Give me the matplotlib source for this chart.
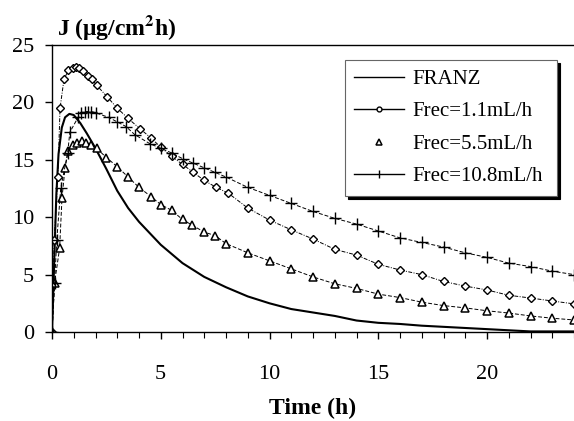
import matplotlib
matplotlib.use("Agg")
import matplotlib.pyplot as plt
from matplotlib.lines import Line2D
from matplotlib.ticker import MultipleLocator

# ---- data ----
t_franz = [0, 0.1, 0.2, 0.3, 0.45, 0.6, 0.8, 1.0, 1.3, 1.6, 2.0, 2.5, 3.0, 3.5, 4.0,
           5.0, 6.0, 7.0, 8.0, 9.0, 10, 11, 12, 13, 14, 15, 16, 17, 18, 19, 20, 21, 22, 24]
j_franz = [0, 6, 12, 15.5, 17.8, 18.7, 19.0, 18.9, 18.2, 17.3, 16.0, 14.2, 12.3, 10.8, 9.6,
           7.6, 6.0, 4.8, 3.9, 3.1, 2.5, 2.0, 1.7, 1.4, 1.0, 0.8, 0.7, 0.55, 0.45, 0.35,
           0.25, 0.15, 0.05, 0.05]

t_f11 = [0, 0.1, 0.27, 0.37, 0.55, 0.75, 0.95, 1.1, 1.25, 1.43, 1.64, 1.84, 2.05, 2.53, 3.0,
         3.5, 4.05, 4.55, 5.0, 5.5, 6.0, 6.5, 7.0, 7.55, 8.1, 9.0, 10, 11, 12, 13, 14, 15,
         16, 17, 18, 19, 20, 21, 22, 23, 24]
j_f11 = [0, 8.0, 13.5, 19.5, 22.0, 22.8, 23.0, 23.1, 23.0, 22.7, 22.3, 22.0, 21.5, 20.5, 19.5,
         18.6, 17.7, 16.9, 16.1, 15.3, 14.6, 13.9, 13.2, 12.6, 12.1, 10.8, 9.75, 8.9, 8.1, 7.2,
         6.7, 5.9, 5.4, 5.0, 4.4, 4.0, 3.66, 3.2, 2.96, 2.7, 2.45]

t_f55 = [0, 0.12, 0.35, 0.46, 0.6, 0.75, 0.96, 1.16, 1.37, 1.56, 1.78, 2.05, 2.5, 3.0, 3.5,
         4.0, 4.55, 5.0, 5.5, 6.0, 6.45, 7.0, 7.5, 8.0, 9.0, 10, 11, 12, 13, 14, 15, 16, 17,
         18, 19, 20, 21, 22, 23, 24]
j_f55 = [0, 4.3, 7.3, 11.7, 14.3, 15.8, 16.3, 16.5, 16.6, 16.5, 16.3, 16.0, 15.2, 14.4, 13.5,
         12.6, 11.8, 11.1, 10.6, 9.8, 9.3, 8.7, 8.4, 7.7, 6.9, 6.2, 5.5, 4.8, 4.2, 3.8, 3.3,
         3.0, 2.6, 2.3, 2.1, 1.85, 1.65, 1.4, 1.2, 1.05]

t_f108 = [0, 0.12, 0.22, 0.4, 0.72, 0.82, 1.2, 1.35, 1.5, 1.65, 1.8, 2.0, 2.6, 3.0, 3.4, 3.8,
          4.5, 5.0, 5.5, 6.0, 6.5, 7.0, 7.5, 8.0, 9.0, 10, 11, 12, 13, 14, 15, 16, 17, 18, 19,
          20, 21, 22, 23, 24]
j_f108 = [0, 4.3, 8.0, 12.5, 15.6, 17.4, 18.7, 19.1, 19.2, 19.2, 19.2, 19.1, 18.7, 18.3, 17.9,
          17.2, 16.4, 16.0, 15.6, 15.1, 14.7, 14.3, 13.9, 13.5, 12.6, 11.9, 11.2, 10.5, 9.9,
          9.4, 8.8, 8.2, 7.8, 7.4, 6.9, 6.5, 6.0, 5.7, 5.3, 5.0]

labels = ["FRANZ", "Frec=1.1mL/h", "Frec=5.5mL/h", "Frec=10.8mL/h"]
xticks = [0, 5, 10, 15, 20]
yticks = [0, 5, 10, 15, 20, 25]

plt.rcParams['font.family'] = ['Liberation Serif', 'DejaVu Serif']
plt.rcParams['mathtext.fontset'] = 'stix'

W, H = 574, 421
fig = plt.figure(figsize=(W/100, H/100), dpi=100)
ax = fig.add_axes([52/W, 1-332/H, 1-52/W, (332-45)/H])

ax.plot(t_franz, j_franz, color='black', lw=1.5)
ax.plot(t_f11, j_f11, color='black', lw=0.7, ls=(0, (4, 1.5, 1, 1.5)), marker='D',
        ms=4.2, mfc='white', mec='black', mew=1.0)
ax.plot(t_f55, j_f55, color='black', lw=0.7, ls=(0, (4, 2)), marker='^',
        ms=5.5, mfc='white', mec='black', mew=1.1)
ax.plot(t_f108, j_f108, color='black', lw=0.7, ls=(0, (4, 2)), marker='+',
        ms=8, mec='black', mew=1.0)

ax.set_xlim(0, 24)
ax.set_ylim(0, 25)
ax.spines['right'].set_visible(False)
for s in ['left', 'bottom', 'top']:
    ax.spines[s].set_linewidth(1.0)
ax.set_xticks(xticks)
ax.set_yticks(yticks)
ax.xaxis.set_minor_locator(MultipleLocator(1))
ax.xaxis.set_tick_params(which='minor', direction='out', length=4, width=0.8)
ax.xaxis.set_tick_params(which='major', direction='out', length=5, width=1,
                         pad=19, labelsize=16)
ax.yaxis.set_tick_params(which='major', direction='out', length=5, width=1,
                         pad=8, labelsize=16)

fig.text(313/W, 1-408/H, "Time (h)", fontsize=17, fontweight='bold',
         ha='center', va='center')
fig.text(57/W, 1-27/H, "J (μg/cm$^{\\mathbf{2}}$h)", fontsize=17, fontweight='bold',
         ha='left', va='center')

handles = [
    Line2D([], [], color='black', lw=1.0),
    Line2D([], [], color='black', lw=1.0, marker='o', ms=3.5, mfc='white', mec='black'),
    Line2D([], [], ls='none', marker='^', ms=4.5, mfc='white', mec='black', mew=1.1),
    Line2D([], [], color='black', lw=1.0, marker='|', ms=6, mec='black'),
]
x0 = (345-52)/522
x1 = (557-52)/522
ytop = (332-60)/287
ybot = (332-195)/287
leg = ax.legend(handles, labels, loc='upper left',
                bbox_to_anchor=(x0, ybot, x1-x0, ytop-ybot),
                mode='expand', fontsize=15, frameon=True, fancybox=False,
                shadow={'color': 'black', 'alpha': 1.0}, handlelength=2.4,
                handletextpad=0.4, labelspacing=0.62, borderpad=0.45, borderaxespad=0)
leg.get_frame().set_edgecolor('#666666')
leg.get_frame().set_linewidth(0.8)

fig.savefig("out.png", dpi=100)
